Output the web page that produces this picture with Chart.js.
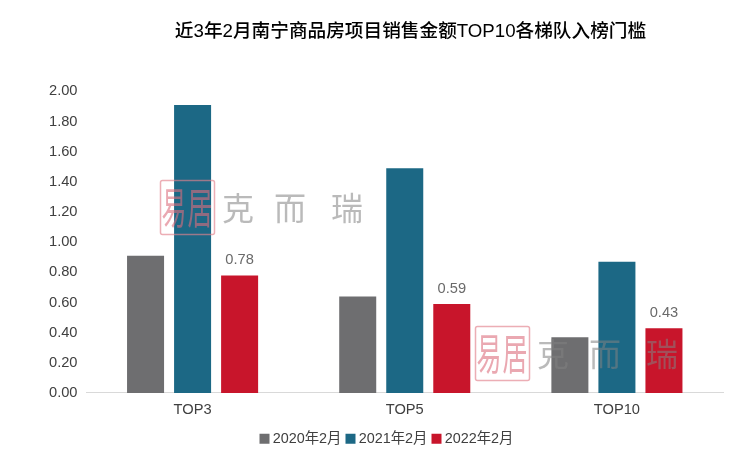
<!DOCTYPE html>
<html><head><meta charset="utf-8">
<style>html,body{margin:0;padding:0;background:#fff}canvas{display:block}</style>
<script src="https://cdn.jsdelivr.net/npm/chart.js@4"></script>
</head><body><canvas id="c" width="743" height="455"></canvas>
<script>
const chartTitle = '近3年2月南宁商品房项目销售金额TOP10各梯队入榜门槛';
const categories = ['TOP3','TOP5','TOP10'];
const seriesNames = ['2020年2月','2021年2月','2022年2月'];
const values2020 = [0.91,0.64,0.37];
const values2021 = [1.91,1.49,0.87];
const values2022 = [0.78,0.59,0.43];
const colors = ['#6E6E70','#1C6885','#C8152B'];
const latin = '"Liberation Sans","Noto Sans CJK SC",sans-serif';

const shiftBlocks = {id:'shiftBlocks', afterLayout(ch){
  ch.titleBlock.left = 98;
  const l = ch.legend;
  l.left += 27; l.right += 27; l.top += 1; l.bottom += 1;
}};
const barLabels = {id:'barLabels', afterDatasetsDraw(ch){
  const c = ch.ctx, meta = ch.getDatasetMeta(2);
  c.save(); c.font = '14.67px '+latin; c.fillStyle='#6a6a6a';
  c.textAlign='center'; c.textBaseline='alphabetic';
  meta.data.forEach((b,i)=>c.fillText(values2022[i].toFixed(2), b.x, b.y-11));
  c.restore();
}};
const watermark = {id:'watermark', afterDatasetsDraw(ch){
  const c = ch.ctx;
  [[160,180],[475,326]].forEach(([x,y])=>{
    c.save();
    c.strokeStyle='rgba(226,130,142,.65)'; c.lineWidth=1.5;
    c.beginPath(); c.roundRect(x+.5,y+.5,54,54,2); c.stroke();
    c.fillStyle='rgba(220,110,125,.6)';
    c.textBaseline='middle'; c.textAlign='center';
    c.font='25px "Noto Sans CJK SC"';
    [['易',x+14],['居',x+40]].forEach(([t,px])=>{
      c.save(); c.translate(px,y+27); c.scale(1,1.75); c.fillText(t,0,0); c.restore();
    });
    c.fillStyle='rgba(130,130,130,.55)';
    c.font='32px "Noto Sans CJK SC"';
    c.fillText('克',x+78,y+27.5);
    c.fillText('而',x+130,y+27.5);
    c.fillText('瑞',x+187,y+27.5);
    c.restore();
  });
}};

new Chart(document.getElementById('c'),{
  type:'bar',
  data:{labels:categories,datasets:[
    {label:seriesNames[0],data:values2020,backgroundColor:colors[0]},
    {label:seriesNames[1],data:values2021,backgroundColor:colors[1]},
    {label:seriesNames[2],data:values2022,backgroundColor:colors[2]}
  ]},
  plugins:[shiftBlocks,barLabels,watermark],
  options:{
    responsive:false,animation:false,
    layout:{padding:{left:0,right:20,top:0,bottom:0}},
    datasets:{bar:{barPercentage:0.787,categoryPercentage:0.665}},
    plugins:{
      tooltip:{enabled:false},
      title:{display:true,text:chartTitle,color:'#000',
        font:{family:latin,size:18.67,weight:'500'},
        padding:{top:21,bottom:48}},
      legend:{position:'bottom',
        labels:{boxWidth:2,boxHeight:2,padding:8,color:'#404040',
          font:{family:latin,size:14.4},
          generateLabels:()=>seriesNames.map((n,i)=>({
            text:n,fillStyle:colors[i],strokeStyle:colors[i],lineWidth:8,
            fontColor:'#404040',datasetIndex:i,hidden:false}))}}
    },
    scales:{
      x:{grid:{display:false,drawTicks:false},border:{color:'#D9D9D9',width:1},
        afterFit(s){s.height-=4;},
        ticks:{color:'#404040',font:{family:latin,size:14.67},padding:8}},
      y:{min:0,max:2,grid:{display:false,drawTicks:false},border:{display:false},
        afterFit(s){s.width=86.5;},
        ticks:{stepSize:0.2,color:'#404040',padding:9,font:{family:latin,size:14.67},
          callback:v=>Number(v).toFixed(2)}}
    }
  }
});
</script></body></html>
